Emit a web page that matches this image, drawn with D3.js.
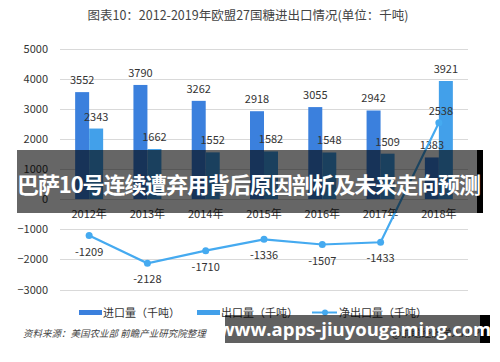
<!DOCTYPE html>
<html><head><meta charset="utf-8">
<script src="https://cdn.jsdelivr.net/npm/d3@7/dist/d3.min.js"></script>
<style>body{margin:0;background:#fff}svg{display:block}</style>
</head><body>
<svg id="c" width="500" height="362"></svg>
<script>
const categories = ["2012年","2013年","2014年","2015年","2016年","2017年","2018年"];
const importVals = [3552,3790,3262,2918,3055,2942,1383];
const exportVals = [2343,1662,1552,1582,1548,1509,3921];
const netVals = [-1209,-2128,-1710,-1336,-1507,-1433,2538];
const yTicks = [5000,4000,3000,2000,1000,0,-1000,-2000,-3000];
const seriesNames = ["进口量（千吨）","出口量（千吨）","净出口量（千吨）"];
const title = "图表10：2012-2019年欧盟27国糖进出口情况(单位：千吨)";
const source = "资料来源：美国农业部 前瞻产业研究院整理";
const credit = "@前瞻经济学人APP";
const banner1 = "巴萨10号连续遭弃用背后原因剖析及未来走向预测";
const banner2 = "www.apps-jiuyougaming.com";

const font = "'Noto Sans CJK SC','Microsoft YaHei',sans-serif";
const cImp = "#3b80dd", cExp = "#42a0ea", cNet = "#45aaf0";
const svg = d3.select("#c");
const x = d3.scaleBand().domain(categories).range([60,468]);
const y = d3.scaleLinear().domain([-3000,5000]).range([289.5,48.5]);

svg.append("text").attr("x",248).attr("y",20).attr("text-anchor","middle")
  .attr("font-family",font).attr("font-size",12.5).attr("fill","#444").text(title);

// grid
svg.append("g").selectAll("line").data(yTicks).join("line")
  .attr("x1",60).attr("x2",468).attr("y1",d=>Math.round(y(d))+0.5).attr("y2",d=>Math.round(y(d))+0.5)
  .attr("stroke","#d9d9d9").attr("stroke-width",1);
const ax = d3.axisLeft(y).tickValues(yTicks).tickFormat(d3.format("d")).tickSize(0).tickPadding(12);
const gA = svg.append("g").attr("transform","translate(60,0)").call(ax);
gA.select(".domain").remove();
gA.selectAll("text").attr("font-family",font).attr("font-size",11).attr("fill","#333");

const bw = 14;
const bx = d3.scaleBand().domain([0,1]).range([0,2*bw]);
const off = (x.bandwidth()-2*bw)/2;
const gBars = svg.append("g");
gBars.selectAll(".imp").data(importVals).join("rect")
  .attr("x",(d,i)=>x(categories[i])+off+bx(0)).attr("width",bw)
  .attr("y",d=>y(d)).attr("height",d=>y(0)-y(d)).attr("fill",cImp);
gBars.selectAll(".exp").data(exportVals).join("rect")
  .attr("x",(d,i)=>x(categories[i])+off+bx(1)).attr("width",bw)
  .attr("y",d=>y(d)).attr("height",d=>y(0)-y(d)).attr("fill",cExp);
const lab = svg.append("g").attr("font-family",font).attr("font-size",11).attr("fill","#333").attr("text-anchor","middle");
importVals.forEach((d,i)=>lab.append("text").attr("x",x(categories[i])+off+bx(0)+bw/2).attr("y",y(d)-8).text(d));
exportVals.forEach((d,i)=>lab.append("text").attr("x",x(categories[i])+off+bx(1)+bw/2).attr("y",y(d)-8).text(d));

// category labels
svg.append("g").selectAll("text").data(categories).join("text")
  .attr("x",d=>x(d)+x.bandwidth()/2).attr("y",218).attr("text-anchor","middle")
  .attr("font-family",font).attr("font-size",11).attr("fill","#333").text(d=>d);

// net line
const cx = i=>x(categories[i])+x.bandwidth()/2;
svg.append("path").datum(netVals).attr("fill","none").attr("stroke",cNet).attr("stroke-width",2.2)
  .attr("d",d3.line().x((d,i)=>cx(i)).y(d=>y(d)));
svg.append("g").selectAll("circle").data(netVals).join("circle")
  .attr("cx",(d,i)=>cx(i)).attr("cy",d=>y(d)).attr("r",3.5).attr("fill",cNet);
netVals.forEach((d,i)=>lab.append("text").attr("x",cx(i)+(d>0?2:0)).attr("y",d>0?y(d)-8:y(d)+20).text(d));

// legend
const lg = svg.append("g").attr("font-family",font).attr("font-size",11).attr("fill","#333");
lg.append("rect").attr("x",79).attr("y",310).attr("width",23).attr("height",5).attr("fill",cImp);
lg.append("text").attr("x",103).attr("y",317).text(seriesNames[0]);
lg.append("rect").attr("x",197).attr("y",310).attr("width",23).attr("height",5).attr("fill",cExp);
lg.append("text").attr("x",221).attr("y",317).text(seriesNames[1]);
lg.append("line").attr("x1",312).attr("x2",337).attr("y1",312.5).attr("y2",312.5).attr("stroke",cNet).attr("stroke-width",2);
lg.append("circle").attr("cx",325).attr("cy",312.5).attr("r",3).attr("fill",cNet);
lg.append("text").attr("x",339).attr("y",317).text(seriesNames[2]);

svg.append("text").attr("x",23).attr("y",337).attr("font-family",font).attr("font-size",9.5)
  .attr("font-style","italic").attr("fill","#444").text(source);
svg.append("text").attr("x",480).attr("y",337).attr("text-anchor","end").attr("font-family",font).attr("font-size",10)
  .attr("fill","#555").text(credit);

// overlay banners
svg.append("rect").attr("x",477).attr("y",150).attr("width",6).attr("height",63).attr("fill","#000");
svg.append("rect").attr("x",17).attr("y",150).attr("width",460).attr("height",63).attr("fill","rgba(0,0,0,0.6)");
svg.append("text").attr("x",249).attr("y",193).attr("text-anchor","middle").attr("font-family",font)
  .attr("font-weight","bold").attr("font-size",22).attr("fill","#fff").attr("textLength",464).text(banner1);
svg.append("rect").attr("x",480).attr("y",315).attr("width",10).attr("height",28).attr("fill","#000");
svg.append("rect").attr("x",225).attr("y",315).attr("width",255).attr("height",28).attr("fill","rgba(0,0,0,0.62)");
svg.append("text").attr("x",355).attr("y",336).attr("text-anchor","middle").attr("font-family","'Open Sans','DejaVu Sans',sans-serif")
  .attr("font-weight","bold").attr("font-size",18.5).attr("fill","#fff").text(banner2);
</script>
</body></html>
